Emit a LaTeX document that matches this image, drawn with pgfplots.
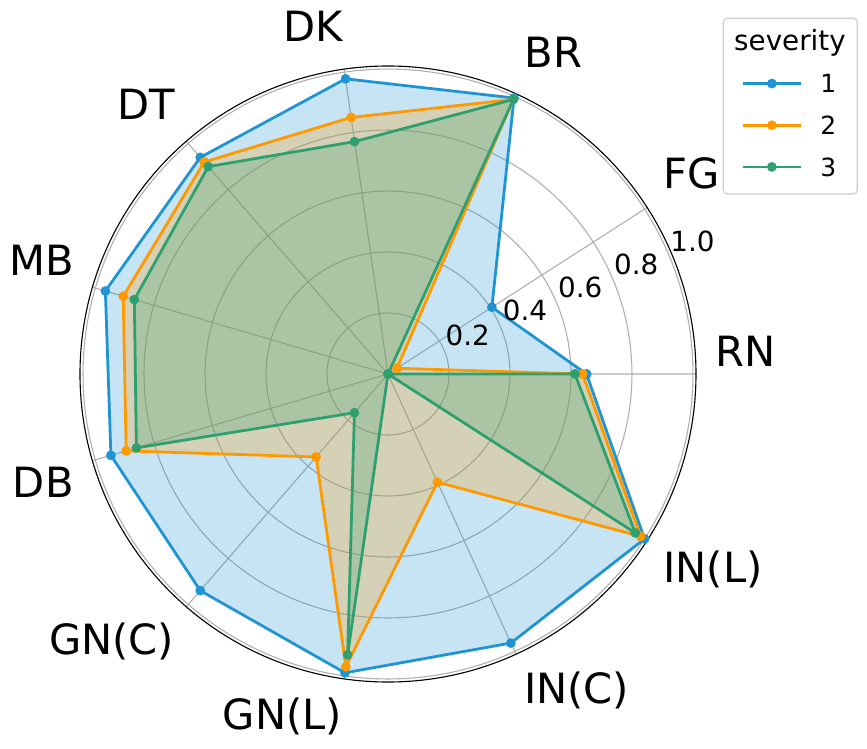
\documentclass[border=0pt]{standalone}
\usepackage{fontspec}
\setmainfont{DejaVu Sans}
\usepackage{pgfplots}
\pgfplotsset{compat=1.18}
\usepgfplotslibrary{polar}
\definecolor{c1}{HTML}{1E94D2}
\definecolor{c2}{HTML}{FF9900}
\definecolor{c3}{HTML}{2EA070}
\begin{document}
\begin{tikzpicture}[x=0.72pt,y=0.72pt]
\useasboundingbox (-388,-374) rectangle (479,374);
% legend frame and title
\draw[rounded corners=2.9pt, draw=black!20, line width=0.8pt, fill=white] (335.3,180) rectangle (469.3,355.7);
\node[font=\fontsize{20}{24}\selectfont, inner sep=0pt] at (402,331.5) {severity};
\begin{polaraxis}[
  at={(0,0)}, anchor=center,
  scale only axis, width=443.52pt, height=443.52pt,
  xmin=0, xmax=360, ymin=0, ymax=1.01,
  xtick={0,32.7273,65.4545,98.1818,130.9091,163.6364,196.3636,229.0909,261.8182,294.5455,327.2727},
  ytick={0.2,0.4,0.6,0.8,1.0},
  xticklabels={}, yticklabels={},
  grid=major,
  major grid style={color=black!31, line width=0.8pt},
  major tick length=0pt,
  axis line style={black, line width=0.8pt},
  y axis line style={draw=none},
  clip=false,
  legend image code/.code={\draw[mark repeat=2,mark phase=2,#1] plot coordinates {(0pt,0pt) (21pt,0pt) (42pt,0pt)};},
  legend style={at={(1.0731,0.9867)}, anchor=north west, draw=none, fill=none,
    inner sep=0pt, row sep=16.9pt, column sep=13pt,
    font=\fontsize{18}{21.6}\selectfont,
    nodes={inner sep=0pt, text height=13.1pt, text depth=0pt}},
]
\addplot[forget plot, c1, line width=2pt, line join=round, fill=c1, fill opacity=0.25,
  mark=*, mark size=3pt, mark options={fill=c1, fill opacity=1, draw opacity=1, line width=1pt}]
  coordinates {(0,0.651) (32.7273,0.405) (65.4545,0.995) (98.1818,0.978) (130.9091,0.94) (163.6364,0.966) (196.3636,0.947) (229.0909,0.94) (261.8182,0.99) (294.5455,0.97) (327.2727,1.0) (360,0.651)};
\addplot[forget plot, c2, line width=2pt, line join=round, fill=c2, fill opacity=0.25,
  mark=*, mark size=3pt, mark options={fill=c2, fill opacity=1, draw opacity=1, line width=1pt}]
  coordinates {(0,0.638) (32.7273,0.035) (65.4545,0.99) (98.1818,0.85) (130.9091,0.92) (163.6364,0.905) (196.3636,0.895) (229.0909,0.36) (261.8182,0.97) (294.5455,0.39) (327.2727,0.985) (360,0.638)};
\addplot[forget plot, c3, line width=2pt, line join=round, fill=c3, fill opacity=0.25,
  mark=*, mark size=3pt, mark options={fill=c3, fill opacity=1, draw opacity=1, line width=1pt}]
  coordinates {(0,0.613) (32.7273,0.0) (65.4545,0.99) (98.1818,0.77) (130.9091,0.90) (163.6364,0.867) (196.3636,0.86) (229.0909,0.168) (261.8182,0.93) (294.5455,0.0) (327.2727,0.964) (360,0.613)};
\addlegendimage{c1, line width=2pt, mark=*, mark size=3pt, mark options={fill=c1, line width=1pt}}
\addlegendentry{1}
\addlegendimage{c2, line width=2pt, mark=*, mark size=3pt, mark options={fill=c2, line width=1pt}}
\addlegendentry{2}
\addlegendimage{c3, line width=2pt, mark=*, mark size=3pt, mark options={fill=c3, line width=1pt}}
\addlegendentry{3}
\end{polaraxis}
% category labels
\begin{scope}[every node/.style={font=\fontsize{30}{36}\selectfont, inner sep=0pt}]
\node at (357.7,23) {RN};
\node at (304,201) {FG};
\node at (165.3,321.5) {BR};
\node at (-74.7,347.3) {DK};
\node at (-242.2,269.5) {DT};
\node at (-346.3,114) {MB};
\node at (-344.7,-108) {DB};
\node at (-276.3,-267) {GN(C)};
\node at (-105.5,-342) {GN(L)};
\node at (188.7,-316) {IN(C)};
\node at (325,-195) {IN(L)};
\end{scope}
% radial tick labels
\begin{scope}[every node/.style={font=\fontsize{20}{24}\selectfont, inner sep=0pt}]
\node at (79.8,39) {0.2};
\node at (137,63.7) {0.4};
\node at (192.3,86.2) {0.6};
\node at (248.3,109.3) {0.8};
\node at (304.5,133) {1.0};
\end{scope}
\end{tikzpicture}
\end{document}
